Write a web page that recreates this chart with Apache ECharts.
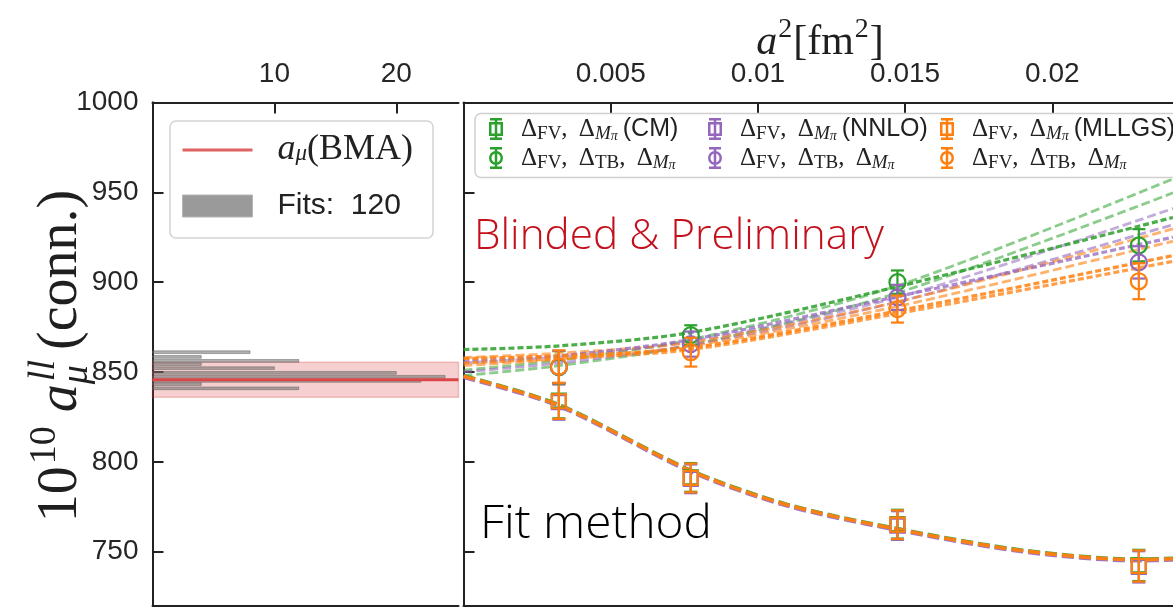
<!DOCTYPE html>
<html><head><meta charset="utf-8">
<script src="https://cdn.jsdelivr.net/npm/echarts@6/dist/echarts.min.js"></script>
<style>html,body{margin:0;padding:0;background:#fff}#c{width:1173px;height:607px}</style>
</head><body><div id="c"></div>
<script>
// ---------------- data ----------------
// left panel: histogram of fit results (count per bin centre)
const histCenters = [861.0, 858.4, 856.2, 854.3, 852.1, 849.5, 847.3, 845.0, 843.2, 840.9];
const histCounts  = [8, 4, 12, 4, 10, 20, 24, 22, 4, 12];
const bmaValue = 845.6, bmaLow = 835.9, bmaHigh = 855.4;
const leftXTicks = [10, 20];
const yTicks = [750, 800, 850, 900, 950, 1000];
const rightXTicks = [0.005, 0.01, 0.015, 0.02];
const rightXTickLabels = ['0.005', '0.01', '0.015', '0.02'];

// right panel: data points at a^2 [fm^2]
const a2Points = [0.00324, 0.00772, 0.01474, 0.02294];
const circGreen = [852.6, 870.5, 900.0, 920.5];   const circGreenErr = [9, 5.5, 6.5, 9];
const circPurple = [852.8, 865.5, 891.5, 911.0];  const circPurpleErr = [9, 7, 7, 9];
const circOrange = [853.0, 861.0, 885.0, 900.5];  const circOrangeErr = [9, 8, 7.5, 10];
const sqGreen = [834.0, 791.3, 765.3, 742.3];     const sqGreenErr = [9.8, 8, 8, 8.7];
const sqPurple = [833.2, 790.5, 764.5, 741.5];    const sqPurpleErr = [9.8, 8, 8, 8.7];
const sqOrange = [833.7, 791.0, 765.0, 742.0];    const sqOrangeErr = [9.8, 8, 8, 8.7];

// fit curves
const fitUpX = [0, 0.00324, 0.00772, 0.01474, 0.0241];
const fitGreenA  = [851.0, 856.5, 868.0, 898.0, 957.5];
const fitGreenB  = [848.0, 853.5, 865.0, 894.0, 949.7];
const fitGreenC  = [862.5, 864.5, 872.0, 897.5, 936.0];
const fitPurpleA = [855.0, 858.5, 867.0, 891.5, 941.0];
const fitPurpleB = [850.0, 855.0, 865.0, 889.0, 932.0];
const fitPurpleC = [856.0, 859.0, 868.0, 892.0, 925.0];
const fitOrangeA = [858.0, 860.5, 866.5, 889.0, 929.7];
const fitOrangeB = [853.6, 857.0, 864.5, 886.5, 922.8];
const fitOrangeC = [857.5, 859.0, 863.5, 884.0, 914.8];
const fitOrangeD = [855.0, 857.5, 862.5, 882.5, 911.6];
const fitDownX = [0, 0.00324, 0.00772, 0.011, 0.01474, 0.019, 0.02294, 0.0241];
const fitDownGreen  = [847.9, 831.8, 795.3, 776.3, 762.8, 750.8, 745.8, 746.3];
const fitDownPurple = [847.0, 830.9, 794.4, 775.4, 761.9, 749.9, 744.9, 745.4];
const fitDownOrange = [847.6, 831.5, 795.0, 776.0, 762.5, 750.5, 745.5, 746.0];

const leftXMax = 25.1, rightXMax = 0.0241, yMin = 720, yMax = 1000;
const GREEN = '#2ca02c', PURPLE = '#9467bd', ORANGE = '#ff7f0e';

// ---------------- helpers ----------------
const mctx = document.createElement('canvas').getContext('2d');
function tw(t, font) { mctx.font = font; return mctx.measureText(t).width; }
const SERIF = '"Liberation Serif", "DejaVu Serif", serif';
const SANS = '"Liberation Sans", Arial, sans-serif';

function markerRenderer(kind) {
  return function (params, api) {
    const x = api.value(0), y = api.value(1), e = api.value(2);
    const p = api.coord([x, y]), t = api.coord([x, y + e]), b = api.coord([x, y - e]);
    const color = api.visual('color');
    const st = { stroke: color, lineWidth: 2.2, fill: 'none' };
    const cw = 6.5;
    const ch = [
      { type: 'line', shape: { x1: p[0], y1: t[1], x2: p[0], y2: b[1] }, style: st },
      { type: 'line', shape: { x1: p[0] - cw, y1: t[1], x2: p[0] + cw, y2: t[1] }, style: st },
      { type: 'line', shape: { x1: p[0] - cw, y1: b[1], x2: p[0] + cw, y2: b[1] }, style: st }
    ];
    if (kind === 'sq') ch.push({ type: 'rect', shape: { x: p[0] - 7, y: p[1] - 7, width: 14, height: 14 }, style: st });
    else ch.push({ type: 'circle', shape: { cx: p[0], cy: p[1], r: 8 }, style: st });
    return { type: 'group', children: ch };
  };
}
function pts(xs, ys, es) { return xs.map((x, i) => es ? [x, ys[i], es[i]] : [x, ys[i]]); }

const NAME_SQ_G = 'ΔFV, ΔMπ(CM)', NAME_SQ_P = 'ΔFV, ΔMπ(NNLO)', NAME_SQ_O = 'ΔFV, ΔMπ(MLLGS)';
const NAME_CI_G = 'ΔFV, ΔTB, ΔMπ [CM]', NAME_CI_P = 'ΔFV, ΔTB, ΔMπ [NNLO]', NAME_CI_O = 'ΔFV, ΔTB, ΔMπ [MLLGS]';

function markerSeries(name, kind, color, ys, es, z) {
  return { name, type: 'custom', xAxisIndex: 2, yAxisIndex: 2, z, silent: true,
    itemStyle: { color }, encode: { x: 0, y: 1 },
    renderItem: markerRenderer(kind), data: pts(a2Points, ys, es) };
}
function fitSeries(xs, ys, color, opacity, width, dash, z) {
  return { type: 'line', xAxisIndex: 2, yAxisIndex: 2, z, silent: true, smooth: 0.3,
    symbol: 'none', showSymbol: false, data: pts(xs, ys),
    lineStyle: { color, opacity, width, type: dash, cap: 'butt' } };
}

const sqIcon = 'path://M1,0H13V2.5H1Z M5.75,0H8.25V22H5.75Z M1,19.5H13V22H1Z M0,4H14V6.5H0Z M0,15.5H14V18H0Z M0,4H2.5V18H0Z M11.5,4H14V18H11.5Z';
const ciIcon = 'path://M1,0H13V2.5H1Z M5.75,0H8.25V22H5.75Z M1,19.5H13V22H1Z M0,11A7,7 0 1 1 14,11A7,7 0 1 1 0,11Z M2.5,11A4.5,4.5 0 1 0 11.5,11A4.5,4.5 0 1 0 2.5,11Z';

const legRich = {
  d: { fontFamily: SERIF, fontSize: 25, lineHeight: 29, verticalAlign: 'middle', color: '#222' },
  s: { fontFamily: SERIF, fontSize: 19, lineHeight: 18, verticalAlign: 'bottom', color: '#222' },
  si: { fontFamily: SERIF, fontStyle: 'italic', fontSize: 19, lineHeight: 18, verticalAlign: 'bottom', color: '#222' },
  pi: { fontFamily: SERIF, fontStyle: 'italic', fontSize: 14, lineHeight: 9, verticalAlign: 'bottom', color: '#222' },
  t: { fontFamily: SANS, fontSize: 25, lineHeight: 29, verticalAlign: 'middle', color: '#222' },
  sp: { width: 5, lineHeight: 29 }
};
function legFmt(name) {
  if (name === NAME_SQ_G) return '{d|Δ}{s|FV}{d|,}{sp| }{d| Δ}{si|M}{pi|π}{sp| }{t|(CM)}';
  if (name === NAME_SQ_P) return '{d|Δ}{s|FV}{d|,}{sp| }{d| Δ}{si|M}{pi|π}{sp| }{t|(NNLO)}';
  if (name === NAME_SQ_O) return '{d|Δ}{s|FV}{d|,}{sp| }{d| Δ}{si|M}{pi|π}{sp| }{t|(MLLGS)}';
  return '{d|Δ}{s|FV}{d|,}{sp| }{d| Δ}{s|TB}{d|,}{sp| }{d| Δ}{si|M}{pi|π}';
}
function colLegend(left, names, colors) {
  return { orient: 'vertical', left, top: 114.5, itemWidth: 40, itemHeight: 22, itemGap: 0, padding: 0,
    symbolKeepAspect: true, selectedMode: false, z: 6,
    data: [ { name: names[0], icon: sqIcon, itemStyle: { color: colors, borderWidth: 0 } },
            { name: names[1], icon: ciIcon, itemStyle: { color: colors, borderWidth: 0 } } ],
    formatter: legFmt, textStyle: { rich: legRich, lineHeight: 29.5 } };
}

// ---------------- text graphics ----------------
const graphics = [];
// y-axis label (rotated)
(function () {
  const F = 56, FS = 38;
  const fMain = `${F}px ${SERIF}`, fSup = `${FS}px ${SERIF}`, fIt = `italic ${F}px ${SERIF}`, fItS = `italic ${FS}px ${SERIF}`;
  const w1 = tw('10', fMain), w2 = tw('10', fSup), wa = tw('a', fIt), wll = tw('ll', fItS), wmu = tw('μ', fItS), wc = tw('(conn.)', fMain);
  const x1 = w1 + 2, x2 = x1 + w2 + 14, x3 = x2 + wa + 3, x4 = x3 + Math.max(wll, wmu) + 10, total = x4 + wc;
  const mid = f => -0.34 * f;
  const items = [
    ['10', fMain, 0, mid(F)], ['10', fSup, x1, -0.40 * F + mid(FS)], ['a', fIt, x2, mid(F)],
    ['ll', fItS, x3, -0.42 * F + mid(FS)], ['μ', fItS, x3 - 3, 0.18 * F + mid(FS)], ['(conn.)', fMain, x4, mid(F)]
  ];
  graphics.push({ type: 'group', x: 80, y: 356 + total / 2, rotation: Math.PI / 2, z: 10,
    children: items.map(it => ({ type: 'text', x: it[2], y: it[3],
      style: { text: it[0], font: it[1], fill: '#1f1f1f', textAlign: 'left', textVerticalAlign: 'middle', align: 'left', verticalAlign: 'middle' } })) });
})();
// top axis title a^2[fm^2]
(function () {
  const F = 42, FS = 28;
  const fIt = `italic ${F}px ${SERIF}`, fM = `${F}px ${SERIF}`, fS = `${FS}px ${SERIF}`;
  const wa = tw('a', fIt), w2 = tw('2', fS), wfm = tw('[fm', fM), wr = tw(']', fM);
  const x1 = wa + 1, x2 = x1 + w2 + 1, x3 = x2 + wfm + 1, x4 = x3 + w2 + 1, total = x4 + wr;
  const mid = f => -0.34 * f;
  const items = [['a', fIt, 0, mid(F)], ['2', fS, x1, -0.42 * F + mid(FS)], ['[fm', fM, x2, mid(F)],
                 ['2', fS, x3, -0.42 * F + mid(FS)], [']', fM, x4, mid(F)]];
  graphics.push({ type: 'group', x: 820 - total / 2, y: 57, z: 10,
    children: items.map(it => ({ type: 'text', x: it[2], y: it[3],
      style: { text: it[0], font: it[1], fill: '#1f1f1f', textAlign: 'left', textVerticalAlign: 'middle', align: 'left', verticalAlign: 'middle' } })) });
})();
// annotations
(function () {
  const f1 = `300 43px "Open Sans", Lato, sans-serif`;
  const s1 = 410 / tw('Blinded & Preliminary', f1);
  graphics.push({ type: 'text', x: 474, y: 254 - 0.39 * 43, scaleX: s1, z: 10,
    style: { text: 'Blinded & Preliminary', font: f1, fill: '#c4101c', textAlign: 'left', textVerticalAlign: 'middle', align: 'left', verticalAlign: 'middle' } });
  const f2 = `300 46px "Open Sans", Lato, sans-serif`;
  const s2 = 232 / tw('Fit method', f2);
  graphics.push({ type: 'text', x: 480, y: 543 - 0.39 * 46, scaleX: s2, z: 10,
    style: { text: 'Fit method', font: f2, fill: '#000', textAlign: 'left', textVerticalAlign: 'middle', align: 'left', verticalAlign: 'middle' } });
})();
// frame for the right legend
graphics.push({ type: 'rect', z: 3, shape: { x: 475, y: 113.5, width: 740, height: 64, r: 6 },
  style: { fill: 'rgba(255,255,255,0.85)', stroke: '#d0d0d0', lineWidth: 1.5 } });

// ---------------- axes ----------------
const AX = '#222';
const lineOnly = { show: true, lineStyle: { color: AX, width: 2 } };
function hidden(extra) { return Object.assign({ axisTick: { show: false }, axisLabel: { show: false }, splitLine: { show: false }, axisLine: lineOnly }, extra); }
const tickStyle = (vals) => ({ show: true, inside: true, length: 11, customValues: vals, lineStyle: { color: AX, width: 2 } });
const labelStyle = { color: '#262626', fontFamily: SANS, fontSize: 28 };

const option = {
  animation: false,
  backgroundColor: '#fff',
  grid: [
    { left: 152.5, top: 102.5, width: 306, height: 503, outerBoundsMode: 'none' },
    { left: 463.5, top: 102.5, right: 0, height: 503, outerBoundsMode: 'none' }
  ],
  xAxis: [
    { gridIndex: 0, type: 'value', position: 'top', min: 0, max: leftXMax, axisLine: lineOnly,
      axisTick: tickStyle(leftXTicks), splitLine: { show: false },
      axisLabel: Object.assign({ customValues: leftXTicks, margin: 14, formatter: v => String(Math.round(v)) }, labelStyle) },
    hidden({ gridIndex: 0, type: 'value', position: 'bottom', min: 0, max: leftXMax }),
    { gridIndex: 1, type: 'value', position: 'top', min: 0, max: rightXMax, axisLine: lineOnly,
      axisTick: tickStyle(rightXTicks), splitLine: { show: false },
      axisLabel: Object.assign({ customValues: rightXTicks, margin: 14,
        formatter: v => { let k = 0; rightXTicks.forEach((t, i) => { if (Math.abs(t - v) < Math.abs(rightXTicks[k] - v)) k = i; }); return rightXTickLabels[k]; } }, labelStyle) },
    hidden({ gridIndex: 1, type: 'value', position: 'bottom', min: 0, max: rightXMax })
  ],
  yAxis: [
    { gridIndex: 0, type: 'value', position: 'left', min: yMin, max: yMax, axisLine: lineOnly,
      axisTick: tickStyle(yTicks), splitLine: { show: false },
      axisLabel: Object.assign({ customValues: yTicks, margin: 14, formatter: v => String(Math.round(v)) }, labelStyle) },
    hidden({ gridIndex: 0, type: 'value', position: 'right', min: yMin, max: yMax }),
    { gridIndex: 1, type: 'value', position: 'left', min: yMin, max: yMax, axisLine: lineOnly,
      axisTick: tickStyle(yTicks), axisLabel: { show: false }, splitLine: { show: false } }
  ],
  legend: [
    { orient: 'vertical', left: 170, top: 121, itemWidth: 70, itemHeight: 22, itemGap: 23,
      padding: [11, 20, 17, 12], backgroundColor: '#fff', borderColor: '#d3d3d3', borderWidth: 1.5, borderRadius: 6,
      symbolKeepAspect: true, selectedMode: false, z: 6,
      data: [ { name: 'aμ(BMA)', icon: 'path://M0,0H70V3H0Z', itemStyle: { color: '#e06262', borderWidth: 0 } },
              { name: 'Fits: 120', icon: 'rect', itemStyle: { color: '#9a9a9a', borderColor: '#b5b5b5', borderWidth: 1 } } ],
      formatter: n => n === 'aμ(BMA)' ? '{pad| }{ai|a}{mu|μ}{r|(BMA)}' : '{pad| }{f|Fits:  120}',
      textStyle: { lineHeight: 30, rich: {
        pad: { width: 20 },
        ai: { fontFamily: SERIF, fontStyle: 'italic', fontSize: 36, lineHeight: 30, verticalAlign: 'middle', color: '#222' },
        mu: { fontFamily: SERIF, fontStyle: 'italic', fontSize: 23, lineHeight: 17, verticalAlign: 'bottom', color: '#222' },
        r: { fontFamily: SERIF, fontSize: 36, lineHeight: 30, verticalAlign: 'middle', color: '#222' },
        f: { fontFamily: SANS, fontSize: 30, lineHeight: 30, verticalAlign: 'middle', color: '#222' } } } },
    colLegend(489, [NAME_SQ_G, NAME_CI_G], GREEN),
    colLegend(708, [NAME_SQ_P, NAME_CI_P], PURPLE),
    colLegend(940, [NAME_SQ_O, NAME_CI_O], ORANGE)
  ],
  graphic: { elements: graphics },
  series: [
    // left panel
    { type: 'custom', xAxisIndex: 0, yAxisIndex: 0, z: 1, silent: true, encode: { x: 0, y: 1 },
      data: [[0, bmaLow, leftXMax, bmaHigh]],
      renderItem: (p, api) => {
        const a = api.coord([api.value(0), api.value(3)]), b = api.coord([api.value(2), api.value(1)]);
        return { type: 'rect', shape: { x: a[0], y: a[1], width: b[0] - a[0], height: b[1] - a[1] },
          style: { fill: 'rgba(214,39,40,0.22)', stroke: 'rgba(214,39,40,0.25)', lineWidth: 1.5 } };
      } },
    { name: 'Fits: 120', type: 'custom', xAxisIndex: 0, yAxisIndex: 0, z: 2, silent: true, encode: { x: 0, y: 1 },
      itemStyle: { color: '#9a9a9a' },
      data: histCenters.map((c, i) => [histCounts[i], c]),
      renderItem: (p, api) => {
        const n = api.value(0), c = api.value(1);
        const a = api.coord([0, c + 0.75]), b = api.coord([n, c - 0.75]);
        return { type: 'rect', shape: { x: a[0], y: a[1], width: b[0] - a[0], height: b[1] - a[1] },
          style: { fill: 'rgba(110,110,110,0.55)', stroke: 'rgba(85,85,85,0.55)', lineWidth: 0.8 } };
      } },
    { name: 'aμ(BMA)', type: 'line', xAxisIndex: 0, yAxisIndex: 0, z: 3, silent: true, symbol: 'none',
      data: [[0, bmaValue], [leftXMax, bmaValue]], lineStyle: { color: '#d94646', width: 3 } },
    // right panel: fit curves (light long dashes, then darker short dashes)
    fitSeries(fitUpX, fitGreenA, GREEN, 0.55, 2.8, [9, 4], 2),
    fitSeries(fitUpX, fitGreenB, GREEN, 0.55, 2.8, [9, 4], 2),
    fitSeries(fitUpX, fitPurpleA, PURPLE, 0.55, 2.8, [9, 4], 2),
    fitSeries(fitUpX, fitPurpleB, PURPLE, 0.6, 2.8, [9, 4], 2),
    fitSeries(fitUpX, fitOrangeA, ORANGE, 0.6, 2.8, [9, 4], 2),
    fitSeries(fitUpX, fitOrangeB, ORANGE, 0.6, 2.8, [9, 4], 2),
    fitSeries(fitUpX, fitGreenC, GREEN, 0.85, 3.2, [6, 3], 2),
    fitSeries(fitUpX, fitPurpleC, PURPLE, 0.75, 3.2, [6, 3], 2),
    fitSeries(fitUpX, fitOrangeC, ORANGE, 0.85, 3.2, [6, 3], 2),
    fitSeries(fitUpX, fitOrangeD, ORANGE, 0.75, 3.2, [6, 3], 2),
    fitSeries(fitDownX, fitDownGreen, GREEN, 0.9, 3.6, [12, 5], 2),
    fitSeries(fitDownX, fitDownPurple, PURPLE, 0.9, 3.6, [12, 5], 2),
    fitSeries(fitDownX, fitDownOrange, ORANGE, 0.95, 3.6, [12, 5], 2),
    // data points
    markerSeries(NAME_SQ_G, 'sq', GREEN, sqGreen, sqGreenErr, 5),
    markerSeries(NAME_SQ_P, 'sq', PURPLE, sqPurple, sqPurpleErr, 5),
    markerSeries(NAME_SQ_O, 'sq', ORANGE, sqOrange, sqOrangeErr, 5),
    markerSeries(NAME_CI_G, 'ci', GREEN, circGreen, circGreenErr, 5),
    markerSeries(NAME_CI_P, 'ci', PURPLE, circPurple, circPurpleErr, 5),
    markerSeries(NAME_CI_O, 'ci', ORANGE, circOrange, circOrangeErr, 5)
  ]
};
const chart = echarts.init(document.getElementById('c'), null, { renderer: 'canvas' });
chart.setOption(option);
</script>
</body></html>
